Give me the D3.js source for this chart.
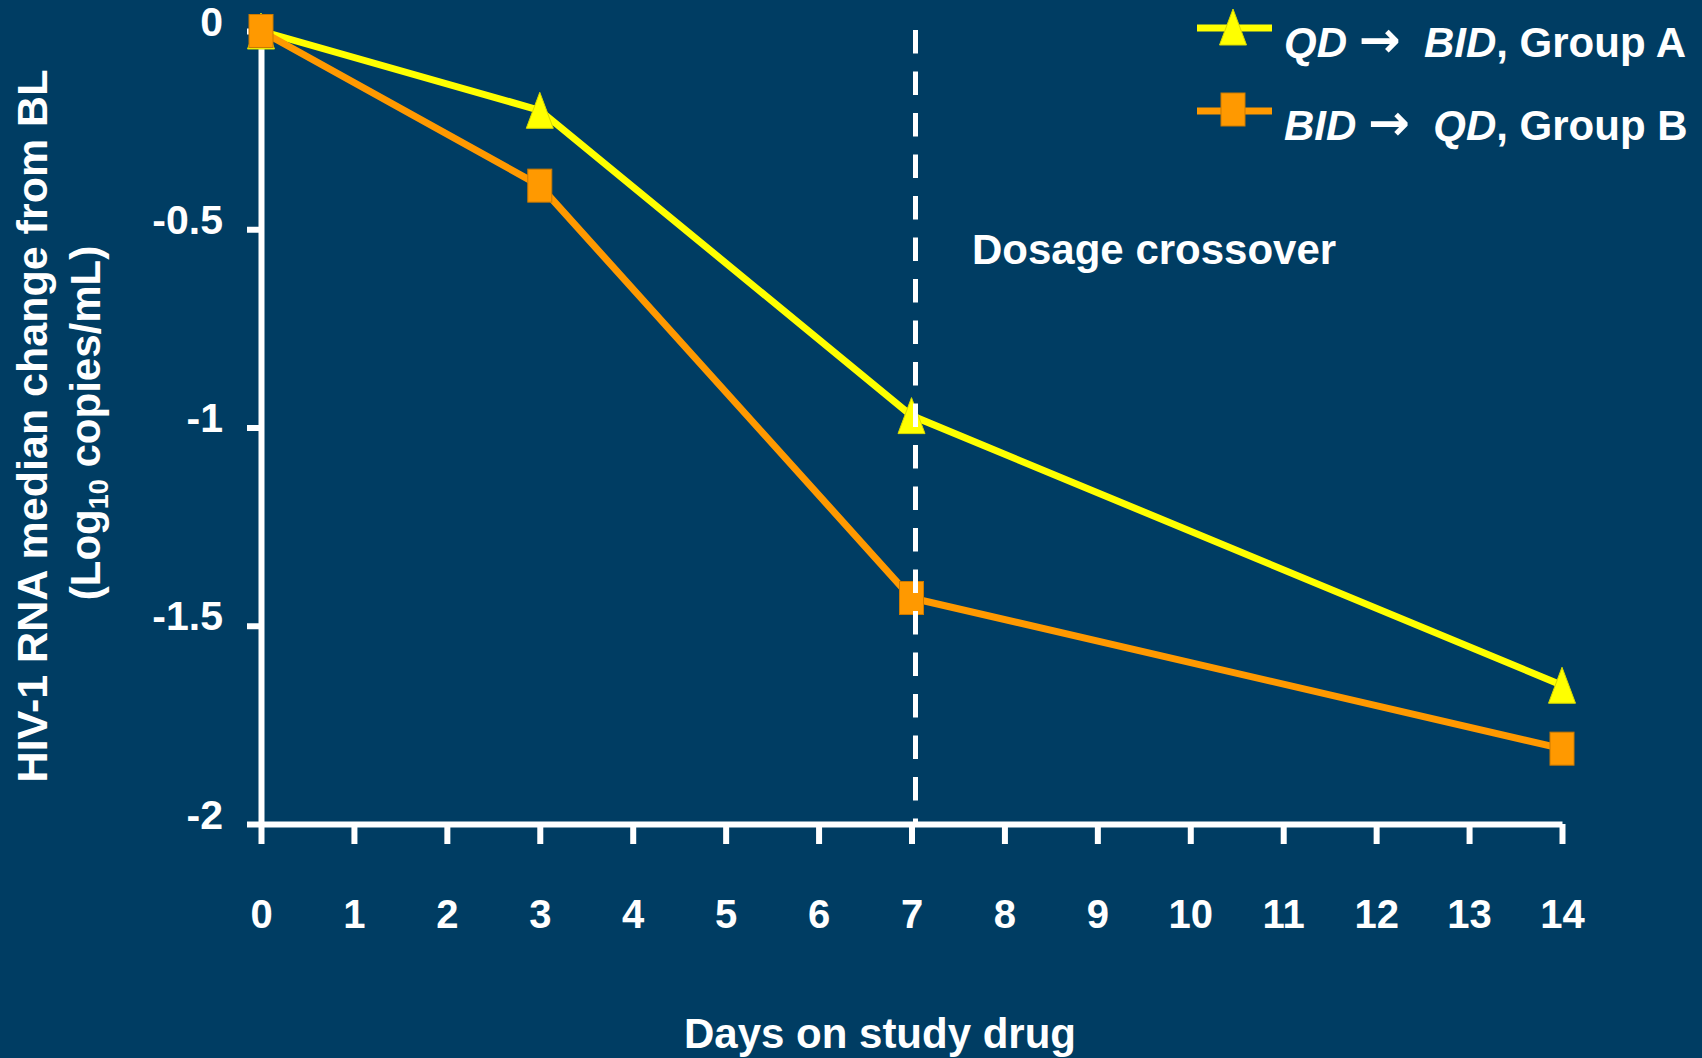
<!DOCTYPE html>
<html>
<head>
<meta charset="utf-8">
<script src="https://cdn.jsdelivr.net/npm/d3@7"></script>
<style>
  html, body { margin: 0; padding: 0; background: #003D63; }
  svg { display: block; }
  text { font-family: "Liberation Sans", Arial, sans-serif; font-weight: bold; fill: #ffffff; }
</style>
</head>
<body>
<svg id="chart" width="1702" height="1058"></svg>
<script>
// Median change in HIV-1 RNA from baseline, by day on study drug
const days = [0, 3, 7, 14];
const groupA = [0, -0.20, -0.97, -1.65];   // QD -> BID
const groupB = [0, -0.39, -1.43, -1.81];   // BID -> QD
const xTickValues = d3.range(0, 15);
const yTickValues = [0, -0.5, -1, -1.5, -2];
const crossoverDay = 7;
const seriesNames = ["Group A", "Group B"];
// legend pieces: [text, style] where style is "i" (italic), "n" (normal) or "a" (arrow)
const legendParts = [
  [["QD", "i"], [" ", "n"], ["\u2192", "a"], ["  ", "n"], ["BID", "i"], [", Group A", "n"]],
  [["BID", "i"], [" ", "n"], ["\u2192", "a"], ["  ", "n"], ["QD", "i"], [", Group B", "n"]]
];

const W = 1702, H = 1058;
const bg = "#003D63";
const yellow = "#FFFF00";
const orange = "#FF9900";

const svg = d3.select("#chart");
svg.append("rect").attr("width", W).attr("height", H).attr("fill", bg);

const x = d3.scaleLinear().domain([0, 14]).range([261, 1562]);
const y = d3.scaleLinear().domain([0, -2]).range([31, 824]);

// Axes
const xAxis = svg.append("g")
  .attr("transform", `translate(0,${y(-2)})`)
  .call(d3.axisBottom(x).tickValues(xTickValues).tickSize(20).tickSizeOuter(0).tickFormat(d => String(d)));
xAxis.select(".domain").attr("stroke", "#fff").attr("stroke-width", 6);
xAxis.selectAll(".tick line").attr("stroke", "#fff").attr("stroke-width", 6);
xAxis.selectAll(".tick text")
  .attr("y", 104).attr("dy", null)
  .attr("font-size", 40).attr("fill", "#fff")
  .style("font-family", "'Liberation Sans', Arial, sans-serif").style("font-weight", "bold");

const yAxis = svg.append("g")
  .attr("transform", `translate(${x(0)},0)`)
  .call(d3.axisLeft(y).tickValues(yTickValues).tickSize(14).tickSizeOuter(0).tickFormat(d => String(d)));
yAxis.select(".domain").attr("stroke", "#fff").attr("stroke-width", 6);
yAxis.selectAll(".tick line").attr("stroke", "#fff").attr("stroke-width", 6);
yAxis.selectAll(".tick text")
  .attr("x", -38).attr("y", 4).attr("dy", null)
  .attr("font-size", 41).attr("fill", "#fff")
  .style("font-family", "'Liberation Sans', Arial, sans-serif").style("font-weight", "bold");

// Series
const line = d3.line().x(d => x(d[0])).y(d => y(d[1]));
const ptsA = days.map((d, i) => [d, groupA[i]]);
const ptsB = days.map((d, i) => [d, groupB[i]]);

const triPath = "M0,-18L13.5,18L-13.5,18Z";

svg.append("path").datum(ptsA).attr("d", line)
  .attr("fill", "none").attr("stroke", yellow).attr("stroke-width", 7).attr("stroke-linejoin", "miter");
svg.append("g").selectAll("path").data(ptsA).join("path")
  .attr("d", triPath)
  .attr("transform", d => `translate(${x(d[0])},${y(d[1])})`)
  .attr("fill", yellow).attr("stroke", "#d8d800").attr("stroke-width", 1);

svg.append("path").datum(ptsB).attr("d", line)
  .attr("fill", "none").attr("stroke", orange).attr("stroke-width", 7).attr("stroke-linejoin", "miter");
svg.append("g").selectAll("rect").data(ptsB).join("rect")
  .attr("x", d => x(d[0]) - 12).attr("y", d => y(d[1]) - 16.5)
  .attr("width", 24).attr("height", 33)
  .attr("fill", orange).attr("stroke", "#cc7a00").attr("stroke-width", 1);

// Crossover marker
svg.append("line")
  .attr("x1", x(crossoverDay) + 4).attr("x2", x(crossoverDay) + 4)
  .attr("y1", 30).attr("y2", y(-2))
  .attr("stroke", "#fff").attr("stroke-width", 5)
  .attr("stroke-dasharray", "23.5,18");

svg.append("text").attr("x", 972).attr("y", 264).attr("font-size", 42).text("Dosage crossover");

// Axis titles
svg.append("text").attr("x", 880).attr("y", 1048).attr("text-anchor", "middle")
  .attr("font-size", 42).text("Days on study drug");

const yt = svg.append("text").attr("transform", "translate(47,426) rotate(-90)")
  .attr("text-anchor", "middle").attr("font-size", 43);
yt.append("tspan").attr("x", 0).attr("y", 0).text("HIV-1 RNA median change from BL");
const yt2 = svg.append("text").attr("transform", "translate(100,423) rotate(-90)")
  .attr("text-anchor", "middle").attr("font-size", 42);
yt2.append("tspan").text("(Log");
yt2.append("tspan").attr("font-size", 27).attr("dy", 8).text("10");
yt2.append("tspan").attr("dy", -8).text(" copies/mL)");

// Legend
const legendRows = [
  { color: yellow, marker: "tri", lineY: 28, textY: 57 },
  { color: orange, marker: "sq", lineY: 111, textY: 140 }
];
legendRows.forEach((r, i) => {
  const g = svg.append("g").attr("class", "legend").attr("data-series", seriesNames[i]);
  g.append("line").attr("x1", 1197).attr("x2", 1272).attr("y1", r.lineY).attr("y2", r.lineY)
    .attr("stroke", r.color).attr("stroke-width", 7);
  if (r.marker === "tri") {
    g.append("path").attr("d", triPath).attr("transform", `translate(1233,${r.lineY - 1})`)
      .attr("fill", r.color).attr("stroke", "#d8d800").attr("stroke-width", 1);
  } else {
    g.append("rect").attr("x", 1221).attr("y", r.lineY - 18).attr("width", 24).attr("height", 33)
      .attr("fill", r.color).attr("stroke", "#cc7a00").attr("stroke-width", 1);
  }
  const t = g.append("text").attr("x", 1284).attr("y", r.textY).attr("font-size", 42)
    .attr("xml:space", "preserve");
  legendParts[i].forEach(([s, st]) => {
    const ts = t.append("tspan").text(s);
    if (st === "i") ts.attr("font-style", "italic");
    if (st === "a") ts.attr("font-size", 50).style("font-family", "'DejaVu Sans', sans-serif")
      .attr("font-weight", "bold");
  });
});
</script>
</body>
</html>
